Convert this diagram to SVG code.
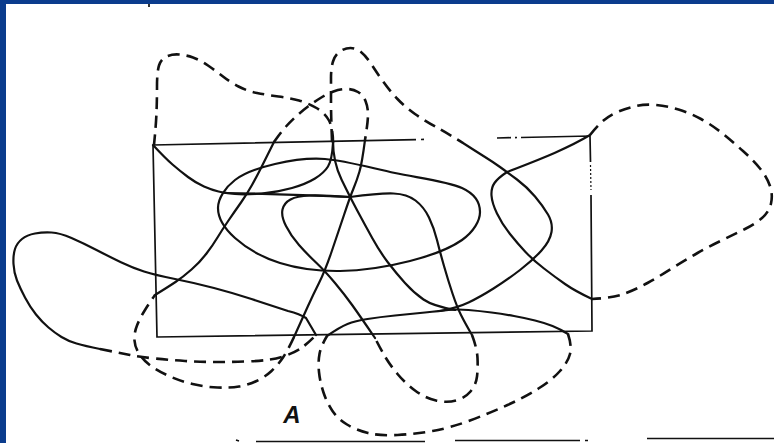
<svg xmlns="http://www.w3.org/2000/svg" width="774" height="443" viewBox="0 0 774 443">
<style>
.s{fill:none;stroke:#111;stroke-width:2.2;stroke-linecap:round;stroke-linejoin:round}
.d{fill:none;stroke:#111;stroke-width:2.6;stroke-dasharray:12 7;stroke-linecap:butt}
.r{fill:none;stroke:#111;stroke-width:1.7}
.lbl{font-family:"Liberation Sans",Arial,sans-serif;font-style:italic;font-weight:bold;font-size:24px;fill:#111}
</style>
<rect x="0" y="0" width="774" height="443" fill="#0b3c8d"/>
<rect x="6" y="4" width="768" height="439" fill="#ffffff"/>
<g id="rectangle">
<path class="r" d="M153,145 L416,139.6 M421,139.5 L424,139.4 M497,138 L511,137.7 M515,137.6 L517,137.5 M521,137.5 L590,136 L590.5,162 M591,195 L592,331 L157,337 L153,145"/>
<path d="M590.5,165 L591,190" fill="none" stroke="#111" stroke-width="1.2" stroke-dasharray="2 2"/>
</g>
<g id="ellipse">
<path class="s" d="M218,208 C218,198.3 225.5,187.3 235,180 C244.5,172.7 260,167.5 275,164 C290,160.5 305,157.5 325,159 C345,160.5 372.2,168.2 395,173 C417.8,177.8 447.8,181.5 462,188 C476.2,194.5 480,203.3 480,212 C480,220.7 473.7,231.8 462,240 C450.3,248.2 430.3,255.8 410,261 C389.7,266.2 361.7,270.7 340,271 C318.3,271.3 297.5,268.5 280,263 C262.5,257.5 245.3,247.2 235,238 C224.7,228.8 218,217.7 218,208 Z"/>
</g>
<g id="loop-c1">
<path class="s" d="M153,145 Q165,158 172.5,164.5 Q180,171 188,177 Q196,183 204,186.5 Q212,190 218.5,191.5 Q225,193 235,194 Q245,195 261.5,193.5 Q278,192 292,188 Q306,184 315,178.5 Q324,173 328,166.5 Q332,160 333,143"/>
<path class="d" d="M333,143 Q333,128 329,120.5 Q325,113 316.5,108 Q308,103 299,100.5 Q290,98 278.5,96.5 Q267,95 257,93 Q247,91 238.5,86.5 Q230,82 223,76.5 Q216,71 208,65.5 Q200,60 193,57.5 Q186,55 179,54.5 Q172,54 166.5,56.5 Q161,59 159,65.5 Q157,72 157,86 Q157,100 156.5,112.5 Q156,125 154,145"/>
<path class="s" d="M225,193 Q290,194 350,197"/>
</g>
<g id="loop-c2">
<path class="s" d="M365,140 Q362,163 359.5,171.5 Q357,180 353.5,188.5 Q350,197 344,215 Q338,233 331.5,252 Q325,271 319,283 Q313,295 308,306 Q303,317 294,337"/>
<path class="d" d="M294,337 Q288,350 283,357.5 Q278,365 271.5,371 Q265,377 256.5,381 Q248,385 239,386.5 Q230,388 217.5,387.5 Q205,387 192.5,384 Q180,381 170,376.5 Q160,372 152.5,367 Q145,362 140,355 Q135,348 134.5,340.5 Q134,333 137,325.5 Q140,318 145,310 Q150,302 155,295"/>
<path class="s" d="M155,295 Q168,287 175.5,282 Q183,277 191.5,269.5 Q200,262 206.5,253.5 Q213,245 217.5,237.5 Q222,230 228.5,220.5 Q235,211 241,202.5 Q247,194 252,185 Q257,176 261,168 Q265,160 267.5,155 Q270,150 274,142"/>
<path class="d" d="M274,142 Q281,132 286,126.5 Q291,121 296.5,116 Q302,111 308,106.5 Q314,102 320.5,98 Q327,94 333.5,91.5 Q340,89 346.5,89 Q353,89 358,92 Q363,95 365.5,101 Q368,107 368,114.5 Q368,122 365,140"/>
</g>
<g id="loop-left">
<path class="s" d="M316,335 L306,318 Q300,314 288,311 Q270,305 251.5,299 Q233,293 214,288 Q195,283 175,279 Q155,275 144,271.5 Q133,268 121.5,262.5 Q110,257 96.5,250 Q83,243 71.5,238 Q60,233 51.5,232.5 Q43,232 35,233.5 Q27,235 22,239 Q17,243 15,249 Q13,255 13.5,264 Q14,273 17,280.5 Q20,288 25,297.5 Q30,307 36,314.5 Q42,322 48.5,327.5 Q55,333 61.5,337 Q68,341 76.5,343.5 Q85,346 100,349"/>
<path class="d" d="M100,349 Q120,353 130,355 Q140,357 155,358.5 Q170,360 185,361 Q200,362 215,362 Q230,362 245,361.5 Q260,361 270,359.5 Q280,358 287.5,355 Q295,352 300.5,348.5 Q306,345 316,335"/>
</g>
<g id="lobe-top">
<path class="d" d="M332,141 Q331,115 331,101.5 Q331,88 331,78 Q331,68 333,61.5 Q335,55 340,51.5 Q345,48 350.5,48 Q356,48 361,52 Q366,56 371.5,64.5 Q377,73 383.5,82 Q390,91 397.5,99 Q405,107 415,114 Q425,121 436,127 Q447,133 463,143"/>
<path class="s" d="M463,143 Q477,152 485,157 Q493,162 500,167 Q507,172 517,179.5 Q527,187 535,196.5 Q543,206 548,214.5 Q553,223 551.5,232 Q550,241 541.5,250.5 Q533,260 520,270 Q507,280 493.5,288.5 Q480,297 468.5,302.5 Q457,308 440,311"/>
<path class="s" d="M333,141 Q333,162 341.5,179.5 Q350,197 357.5,211 Q365,225 372.5,238.5 Q380,252 388,262.5 Q396,273 405,283 Q414,293 423.5,299.5 Q433,306 455,310"/>
</g>
<g id="loop-inner">
<path class="s" d="M350,197 Q380,193 393.5,193.5 Q407,194 415.5,200.5 Q424,207 429,217.5 Q434,228 437,240 Q440,252 444,266 Q448,280 452.5,293.5 Q457,307 461,315 Q465,323 472,335"/>
<path class="d" d="M472,335 Q477,348 477.5,358 Q478,368 477,376.5 Q476,385 470.5,391.5 Q465,398 456,400.5 Q447,403 436,400.5 Q425,398 415,390.5 Q405,383 397.5,374 Q390,365 385,356.5 Q380,348 375,338"/>
<path class="s" d="M375,338 Q360,316 352.5,305.5 Q345,295 335,283 Q325,271 316,262.5 Q307,254 299,245 Q291,236 286,226 Q281,216 282.5,209.5 Q284,203 290.5,199.5 Q297,196 309.5,195.5 Q322,195 350,197"/>
</g>
<g id="loop-bottom">
<path class="s" d="M327,336 Q340,327 347.5,324 Q355,321 367.5,319 Q380,317 395,315.5 Q410,314 425,312.5 Q440,311 448.5,310 Q457,309 468.5,310 Q480,311 491.5,312.5 Q503,314 514,316 Q525,318 535,320.5 Q545,323 552.5,326 Q560,329 568,334"/>
<path class="d" d="M568,334 Q572,346 570,354 Q568,362 560,371 Q552,380 538.5,388.5 Q525,397 507.5,405 Q490,413 470,420.5 Q450,428 432.5,431 Q415,434 397.5,435 Q380,436 368,433 Q356,430 347,424.5 Q338,419 332.5,411 Q327,403 323.5,392.5 Q320,382 319,372 Q318,362 319.5,354 Q321,346 327,336"/>
</g>
<g id="loop-right">
<path class="s" d="M507,172 C535,161 565,150 590,135"/>
<path class="d" d="M590,135 Q597,126 603.5,120.5 Q610,115 618.5,111.5 Q627,108 636,106 Q645,104 656,105 Q667,106 678.5,109.5 Q690,113 701,119 Q712,125 722.5,133.5 Q733,142 743,151 Q753,160 760,168.5 Q767,177 770,186 Q773,195 771,203.5 Q769,212 762,218 Q755,224 745,229 Q735,234 722.5,240 Q710,246 697.5,253 Q685,260 672.5,268 Q660,276 647.5,283 Q635,290 623.5,294 Q612,298 592,299"/>
<path class="s" d="M592,299 Q575,291 565,284 Q555,277 544,268.5 Q533,260 525.5,252 Q518,244 510,234 Q502,224 497,213.5 Q492,203 491.5,195.5 Q491,188 494.5,183 Q498,178 507,172"/>
</g>
<g id="label-a">
<text class="lbl" x="292" y="423" text-anchor="middle">A</text>
</g>
<g id="edge-marks">
<path class="r" d="M256,441.5 L425,441.5 M455,440.5 L580,440.5 M585,440.5 L588,440.5 M647,438.5 L774,438.5 M236,440 L239,441"/>
<path class="r" d="M149,4 L149,7"/>
</g>
</svg>
